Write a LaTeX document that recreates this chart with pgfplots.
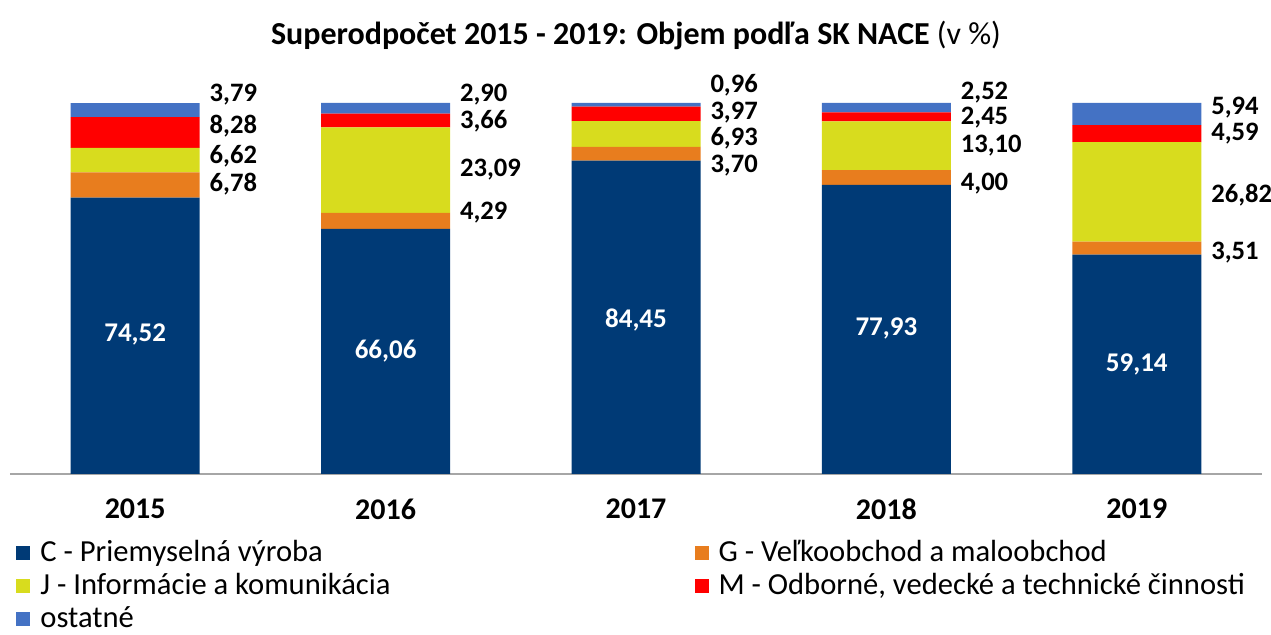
\documentclass[border=0pt]{standalone}
\usepackage{pgfplots}
\pgfplotsset{compat=1.18}
\usepackage{fontspec}
\setmainfont{Carlito}
\definecolor{cC}{RGB}{0,58,118}
\definecolor{cG}{RGB}{232,125,30}
\definecolor{cJ}{RGB}{216,220,30}
\definecolor{cM}{RGB}{255,0,0}
\definecolor{cO}{RGB}{68,114,196}
\newcommand{\lab}[3]{\node[anchor=west,inner xsep=1pt,inner ysep=0pt,text height=0.64em,text depth=0.1em,xshift=3.5pt,yshift=-0.5pt,font=\bfseries\fontsize{13.3}{16}\selectfont] at (axis cs:#1+0.26,#2) {#3};}
\newcommand{\ins}[3]{\node[font=\bfseries\fontsize{13.5}{16}\selectfont,text=white] at (axis cs:#1,#2) {#3};}
\begin{document}
\begin{tikzpicture}
\begin{axis}[
  at={(0,0)}, anchor=south west,
  width=626pt, height=185.5pt, scale only axis,
  ybar stacked, bar width=64.5pt,
  xmin=-0.5, xmax=4.5, ymin=0, ymax=100,
  xtick={0,1,2,3,4}, xticklabels={2015,2016,2017,2018,2019},
  xticklabel style={font=\bfseries\fontsize{15}{18}\selectfont, yshift=-9pt},
  major tick length=0pt,
  ytick=\empty,
  axis y line=none, axis x line=bottom,
  x axis line style={-, draw=gray!70, line width=0.8pt},
  clip=false,
  title={\textbf{Superodpočet 2015 - 2019: Objem podľa SK NACE} (v \%)},
  title style={at={(axis description cs:0.5,1)}, anchor=center, yshift=27.5pt, font=\fontsize{16}{19}\selectfont},
  legend columns=2,
  legend cell align=left,
  legend style={at={(axis description cs:0,0)}, anchor=north west, xshift=0pt, yshift=-29pt,
     draw=none, fill=none, font=\fontsize{15.3}{18}\selectfont, row sep=0.5pt,
     /tikz/column 1/.style={column sep=3pt},
     /tikz/column 3/.style={column sep=3pt},
     /tikz/column 2/.style={column sep=150pt}},
  legend image code/.code={\fill[#1] (0pt,-3.5pt) rectangle (7pt,3.5pt);},
]
\addplot[fill=cC, draw=none] coordinates {(0,74.52) (1,66.06) (2,84.45) (3,77.93) (4,59.14)};
\addlegendentry{C - Priemyselná výroba}
\addplot[fill=cG, draw=none] coordinates {(0,6.78) (1,4.29) (2,3.70) (3,4.00) (4,3.51)};
\addlegendentry{G - Veľkoobchod a maloobchod}
\addplot[fill=cJ, draw=none] coordinates {(0,6.62) (1,23.09) (2,6.93) (3,13.10) (4,26.82)};
\addlegendentry{J - Informácie a komunikácia}
\addplot[fill=cM, draw=none] coordinates {(0,8.28) (1,3.66) (2,3.97) (3,2.45) (4,4.59)};
\addlegendentry{M - Odborné, vedecké a technické činnosti}
\addplot[fill=cO, draw=none] coordinates {(0,3.79) (1,2.90) (2,0.96) (3,2.52) (4,5.94)};
\addlegendentry{ostatné}
\end{axis}
\begin{axis}[
  at={(0,0)}, anchor=south west,
  width=626pt, height=185.5pt, scale only axis,
  xmin=-0.5, xmax=4.5, ymin=0, ymax=100,
  hide axis, clip=false,
]
\ins{0}{37.5}{74,52}
\ins{1}{33.0}{66,06}
\ins{2}{41.6}{84,45}
\ins{3}{39.3}{77,93}
\ins{4}{29.6}{59,14}
\lab{0}{102.2}{3,79}\lab{0}{93.5}{8,28}\lab{0}{85.4}{6,62}\lab{0}{77.9}{6,78}
\lab{1}{102.2}{2,90}\lab{1}{94.9}{3,66}\lab{1}{81.9}{23,09}\lab{1}{70.4}{4,29}
\lab{2}{104.5}{0,96}\lab{2}{97.3}{3,97}\lab{2}{90.2}{6,93}\lab{2}{83.0}{3,70}
\lab{3}{102.7}{2,52}\lab{3}{95.8}{2,45}\lab{3}{88.4}{13,10}\lab{3}{78.2}{4,00}
\lab{4}{98.6}{5,94}\lab{4}{91.6}{4,59}\lab{4}{74.9}{26,82}\lab{4}{59.6}{3,51}
\end{axis}
\pgfresetboundingbox
\path[use as bounding box] (-5pt,-80.5pt) rectangle (630.5pt,237pt);
\end{tikzpicture}
\end{document}
